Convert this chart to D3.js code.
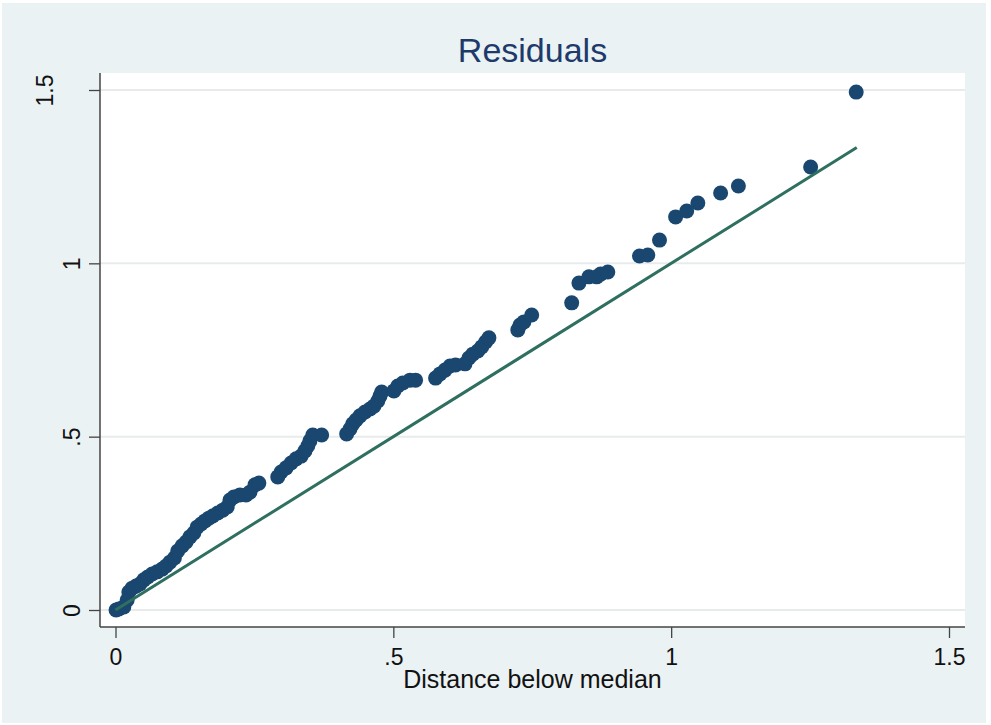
<!DOCTYPE html>
<html>
<head>
<meta charset="utf-8">
<script src="https://cdn.jsdelivr.net/npm/d3@7"></script>
<style>
  body { margin: 0; background: #fff; }
  svg { display: block; font-family: "Liberation Sans", Arial, sans-serif; }
</style>
</head>
<body>
<svg id="chart" width="991" height="725"></svg>
<script>
// symmetry plot: distance below median vs distance above median
const below = [0.001, 0.006, 0.015, 0.021, 0.024, 0.030, 0.037, 0.044, 0.051, 0.058,
  0.066, 0.075, 0.084, 0.091, 0.098, 0.106, 0.112, 0.120, 0.127, 0.134,
  0.141, 0.147, 0.154, 0.161, 0.168, 0.175, 0.184, 0.193, 0.201, 0.206,
  0.213, 0.224, 0.235, 0.242, 0.251, 0.258, 0.292, 0.298, 0.307, 0.316,
  0.325, 0.334, 0.341, 0.346, 0.350, 0.355, 0.371, 0.416, 0.422, 0.427,
  0.433, 0.440, 0.449, 0.458, 0.465, 0.472, 0.476, 0.479, 0.501, 0.508,
  0.517, 0.530, 0.540, 0.576, 0.584, 0.593, 0.602, 0.612, 0.629, 0.636,
  0.643, 0.652, 0.659, 0.666, 0.672, 0.724, 0.728, 0.735, 0.749, 0.821,
  0.834, 0.852, 0.866, 0.873, 0.886, 0.943, 0.958, 0.979, 1.008, 1.028,
  1.048, 1.089, 1.121, 1.251, 1.333]
const above = [0.000, 0.003, 0.009, 0.029, 0.052, 0.063, 0.069, 0.075, 0.087, 0.095,
  0.104, 0.110, 0.118, 0.127, 0.138, 0.150, 0.170, 0.185, 0.196, 0.211,
  0.222, 0.239, 0.248, 0.257, 0.265, 0.271, 0.280, 0.288, 0.297, 0.317,
  0.326, 0.332, 0.332, 0.340, 0.361, 0.366, 0.384, 0.398, 0.410, 0.424,
  0.436, 0.444, 0.459, 0.473, 0.488, 0.505, 0.505, 0.508, 0.522, 0.537,
  0.548, 0.560, 0.571, 0.580, 0.588, 0.603, 0.617, 0.629, 0.632, 0.646,
  0.655, 0.663, 0.663, 0.669, 0.681, 0.692, 0.704, 0.707, 0.710, 0.727,
  0.738, 0.747, 0.759, 0.773, 0.785, 0.808, 0.822, 0.831, 0.851, 0.886,
  0.943, 0.961, 0.961, 0.969, 0.975, 1.021, 1.024, 1.067, 1.134, 1.151,
  1.174, 1.203, 1.223, 1.278, 1.494]
const refLine = [0, 1.334]
const xTicks = [0, 0.5, 1, 1.5]
const yTicks = [0, 0.5, 1, 1.5]
const tickLabels = ['0', '.5', '1', '1.5']

const svg = d3.select('#chart')
const plot = { left: 100, top: 73, right: 965, bottom: 627 }

const x = d3.scaleLinear().domain([0, 1.5]).range([115.5, 949])
const y = d3.scaleLinear().domain([0, 1.5]).range([610, 90])
const fmt = d => tickLabels[yTicks.indexOf(d)]

svg.append('rect')
  .attr('x', 2).attr('y', 3)
  .attr('width', 984).attr('height', 720)
  .attr('fill', '#eaf2f3')

svg.append('rect')
  .attr('x', plot.left).attr('y', plot.top)
  .attr('width', plot.right - plot.left).attr('height', plot.bottom - plot.top)
  .attr('fill', '#fff')

// grid
svg.append('g')
  .selectAll('line')
  .data(yTicks)
  .join('line')
  .attr('x1', plot.left).attr('x2', plot.right)
  .attr('y1', d => y(d)).attr('y2', d => y(d))
  .attr('stroke', '#e8ebec')
  .attr('stroke-width', 2)

// axes
const yAxis = svg.append('g')
  .attr('transform', 'translate(' + plot.left + ',0)')
  .call(d3.axisLeft(y).tickValues(yTicks).tickFormat(fmt).tickSize(11))
yAxis.select('.domain').remove()
yAxis.selectAll('.tick line').attr('stroke', '#444').attr('stroke-width', 1.3)
yAxis.selectAll('.tick text')
  .attr('x', null).attr('dy', null)
  .attr('transform', d => 'translate(' + (d === 1.5 ? -47 : -20) + ',0) rotate(-90)')
  .attr('text-anchor', 'middle')
  .attr('font-size', 23)
  .attr('font-family', '"Liberation Sans", Arial, sans-serif')
  .attr('fill', '#111')

const xAxis = svg.append('g')
  .attr('transform', 'translate(0,' + plot.bottom + ')')
  .call(d3.axisBottom(x).tickValues(xTicks).tickFormat(fmt).tickSize(11))
xAxis.select('.domain').remove()
xAxis.selectAll('.tick line').attr('stroke', '#444').attr('stroke-width', 1.3)
xAxis.selectAll('.tick text')
  .attr('y', 38).attr('dy', null)
  .attr('font-size', 23)
  .attr('font-family', '"Liberation Sans", Arial, sans-serif')
  .attr('fill', '#111')

svg.append('line')
  .attr('x1', plot.left).attr('x2', plot.left)
  .attr('y1', plot.top).attr('y2', plot.bottom)
  .attr('stroke', '#444').attr('stroke-width', 1.5)
svg.append('line')
  .attr('x1', plot.left).attr('x2', plot.right)
  .attr('y1', plot.bottom).attr('y2', plot.bottom)
  .attr('stroke', '#444').attr('stroke-width', 1.5)

// points
svg.append('g')
  .selectAll('circle')
  .data(below.map((b, i) => [b, above[i]]))
  .join('circle')
  .attr('cx', d => x(d[0]))
  .attr('cy', d => y(d[1]))
  .attr('r', 7.5)
  .attr('fill', '#1a476f')

// y = x reference
svg.append('line')
  .attr('x1', x(refLine[0])).attr('y1', y(refLine[0]))
  .attr('x2', x(refLine[1])).attr('y2', y(refLine[1]))
  .attr('stroke', '#2e6f60')
  .attr('stroke-width', 3)

svg.append('text')
  .attr('x', (plot.left + plot.right) / 2).attr('y', 62)
  .attr('text-anchor', 'middle')
  .attr('font-size', 34)
  .attr('fill', '#1e3a6b')
  .text('Residuals')

svg.append('text')
  .attr('x', (plot.left + plot.right) / 2).attr('y', 688)
  .attr('text-anchor', 'middle')
  .attr('font-size', 25)
  .attr('fill', '#111')
  .text('Distance below median')
</script>
</body>
</html>
